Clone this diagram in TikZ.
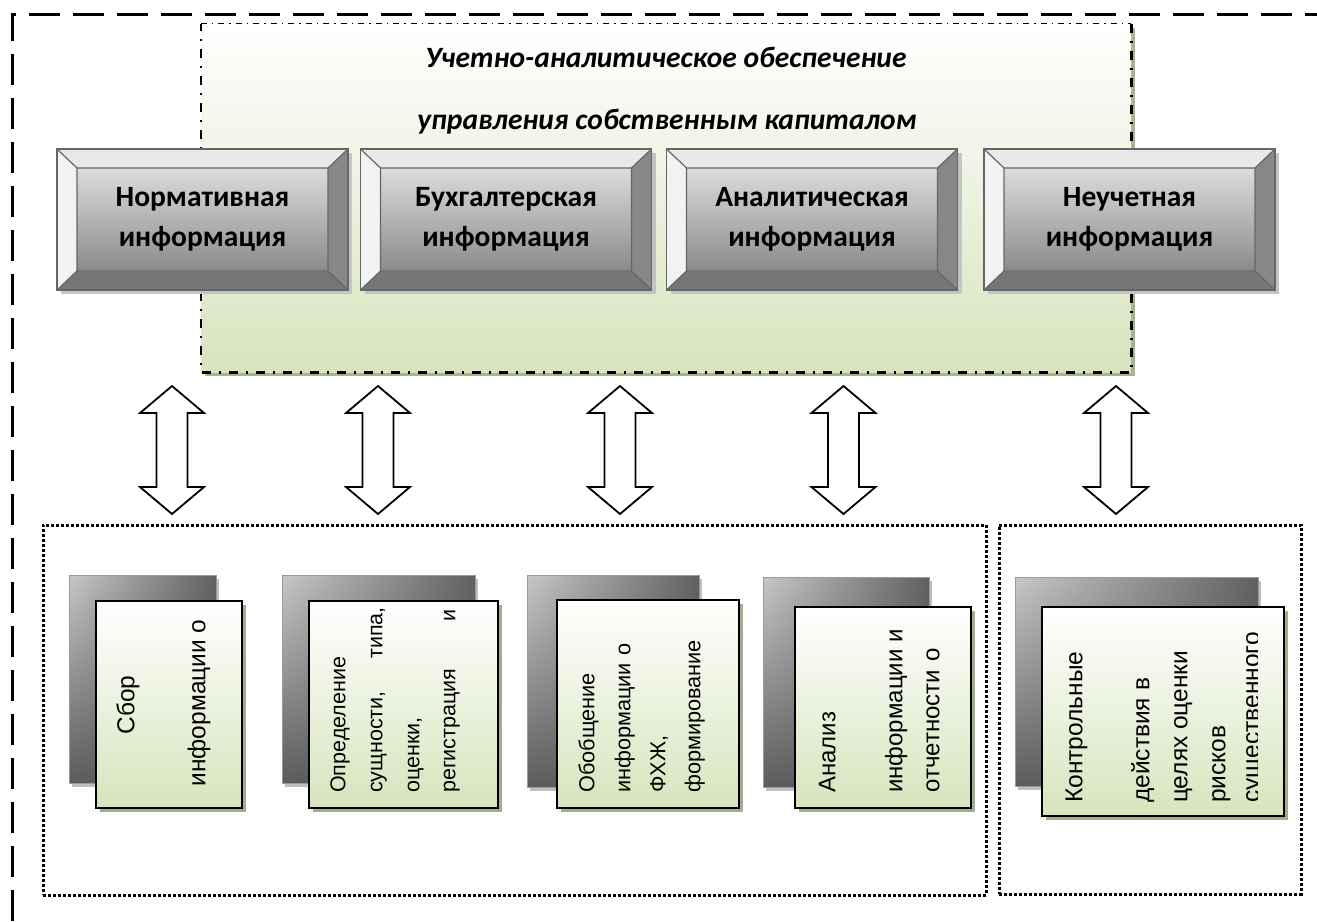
\documentclass[tikz,border=0pt]{standalone}
\usepackage{fontspec}
\setmainfont{Carlito}
\newfontfamily\cardfont{Liberation Sans}
\usetikzlibrary{calc,shadows,shadings}
\definecolor{cardgreen}{HTML}{D7E4BD}
\definecolor{greenshadow}{HTML}{A7B38D}
\definecolor{cardshadow}{HTML}{A3AC8C}
\definecolor{backshadow}{HTML}{BFBFBF}
\definecolor{bevborder}{HTML}{666666}
\definecolor{bevtopc}{HTML}{E9E9E9}
\definecolor{bevleftc}{HTML}{F2F2F2}
\definecolor{bevrightc}{HTML}{878787}
\definecolor{bevbotc}{HTML}{767676}
\definecolor{facetop}{HTML}{DCDCDC}
\definecolor{facemid}{HTML}{F3F3F3}
\definecolor{facebot}{HTML}{8A8A8A}
\definecolor{bevshadow}{HTML}{C4C4C4}
\newcommand\dblarrow[2]{%
  \draw[blockarrow] (#1) -- ($(#1)+(32,27)$) -- ($(#1)+(15.5,27)$) -- ($(#2)+(15.5,-27)$) -- ($(#2)+(32,-27)$) -- (#2) -- ($(#2)+(-32,-27)$) -- ($(#2)+(-15.5,-27)$) -- ($(#1)+(-15.5,27)$) -- ($(#1)+(-32,27)$) -- cycle;}
\begin{document}
\begin{tikzpicture}[x=1pt,y=-1pt,
  outerdash/.style={line width=3pt, dash pattern=on 31pt off 13pt},
  mainbox/.style={inner sep=0pt, top color=white, bottom color=cardgreen,
     drop shadow={shadow xshift=4pt, shadow yshift=-4pt, fill=greenshadow, opacity=1}},
  thindashdot/.style={line width=1.3pt, dash pattern=on 6pt off 5pt on 1.5pt off 5pt},
  thickdashdot/.style={line width=2.6pt, dash pattern=on 9pt off 8pt on 2pt off 8pt},
  titletext/.style={inner sep=0pt, font=\bfseries\itshape\fontsize{29.5}{34}\selectfont},
  bevelbox/.style={minimum width=291pt, minimum height=141pt, inner sep=0pt,
     draw=bevborder, line width=1.4pt, align=center,
     font=\bfseries\fontsize{29.5}{40}\selectfont,
     drop shadow={shadow xshift=4pt, shadow yshift=-4pt, fill=bevshadow, opacity=1},
     path picture={
       \coordinate (@a) at (path picture bounding box.north west);
       \coordinate (@b) at (path picture bounding box.north east);
       \coordinate (@c) at (path picture bounding box.south east);
       \coordinate (@d) at (path picture bounding box.south west);
       \coordinate (@A) at ($(@a)+(20,19)$);
       \coordinate (@B) at ($(@b)+(-20,19)$);
       \coordinate (@C) at ($(@c)+(-20,-19)$);
       \coordinate (@D) at ($(@d)+(20,-19)$);
       \fill[bevtopc] (@a)--(@b)--(@B)--(@A)--cycle;
       \fill[bevrightc] (@b)--(@c)--(@C)--(@B)--cycle;
       \fill[bevbotc] (@c)--(@d)--(@D)--(@C)--cycle;
       \fill[bevleftc] (@d)--(@a)--(@A)--(@D)--cycle;
       \shade[top color=facetop, middle color=facemid, bottom color=facebot] (@A) rectangle (@C);
       \draw[bevborder, line width=1.2pt] (@a)--(@A) (@b)--(@B) (@c)--(@C) (@d)--(@D) (@A) rectangle (@C);
     }},
  blockarrow/.style={draw=black, fill=white, line width=1.8pt, line join=miter},
  dotbox/.style={draw=black, line width=3pt, dash pattern=on 3pt off 2pt, inner sep=0pt},
  backcard/.style={inner sep=0pt, draw=gray!80, line width=0.6pt,
     upper left=black!22, upper right=black!62, lower left=black!64, lower right=black!66,
     drop shadow={shadow xshift=3pt, shadow yshift=-4pt, fill=backshadow, opacity=1}},
  frontcard/.style={inner sep=0pt, draw=black, line width=2pt, top color=white, bottom color=cardgreen,
     drop shadow={shadow xshift=4pt, shadow yshift=-4pt, fill=cardshadow, opacity=1}},
  vtext/.style={rotate=90, inner sep=0pt}
]
\useasboundingbox (0,0) rectangle (1317,921);
\fill[white] (0,0) rectangle (1317,921);

% outer dashed frame
\draw[outerdash] (12,921) -- (12,14) -- (1317,14);

% main green box
\node[mainbox, minimum width=930pt, minimum height=348pt] (main) at (666,198) {};
\draw[thindashdot] (main.north west) -- (main.north east);
\draw[thickdashdot] (main.north east) -- (main.south east) -- (main.south west) -- (main.north west);
\node[titletext] (t1) at (666,57) {Учетно-аналитическое обеспечение};
\node[titletext] (t2) at (667,122) {управления собственным капиталом};

% bevel boxes
\node[bevelbox] (n1) at (202.5,219.5) {Нормативная\\информация};
\node[bevelbox] (n2) at (506,219.5) {Бухгалтерская\\информация};
\node[bevelbox] (n3) at (812,219.5) {Аналитическая\\информация};
\node[bevelbox] (n4) at (1129.5,219.5) {Неучетная\\информация};

% dotted groups
\node[dotbox, minimum width=943pt, minimum height=370pt] (g1) at (514.5,710) {};
\node[dotbox, minimum width=302pt, minimum height=369pt] (g2) at (1150,709.5) {};

% arrows
\coordinate (a1t) at (172,386); \coordinate (a1b) at (172,514);
\coordinate (a2t) at (378,386); \coordinate (a2b) at (378,514);
\coordinate (a3t) at (620,386); \coordinate (a3b) at (620,514);
\coordinate (a4t) at (843.5,386); \coordinate (a4b) at (843.5,514);
\coordinate (a5t) at (1116,386); \coordinate (a5b) at (1116,514);
\dblarrow{a1t}{a1b}
\dblarrow{a2t}{a2b}
\dblarrow{a3t}{a3b}
\dblarrow{a4t}{a4b}
\dblarrow{a5t}{a5b}

% cards
\node[backcard, minimum width=147pt, minimum height=208pt] (b1) at (142.5,679) {};
\node[frontcard, minimum width=146pt, minimum height=207pt] (f1) at (169,704.5) {};
\node[backcard, minimum width=193pt, minimum height=208pt] (b2) at (378.5,679) {};
\node[frontcard, minimum width=189pt, minimum height=207pt] (f2) at (403.5,704.5) {};
\node[backcard, minimum width=172pt, minimum height=212pt] (b3) at (613,681) {};
\node[frontcard, minimum width=182pt, minimum height=208pt] (f3) at (648,704) {};
\node[backcard, minimum width=166pt, minimum height=210pt] (b4) at (846,682) {};
\node[frontcard, minimum width=176pt, minimum height=201pt] (f4) at (883,707.5) {};
\node[backcard, minimum width=243pt, minimum height=209pt] (b5) at (1136.5,681.5) {};
\node[frontcard, minimum width=242pt, minimum height=209pt] (f5) at (1163,711.5) {};

% card 1 text
\begin{scope}[every node/.style={vtext, font=\cardfont\fontsize{24.5}{28}\selectfont}]
\node[anchor=mid] (c1a) at (132,705) {Сбор};
\node[anchor=mid] (c1b) at (203,703) {информации о};
\end{scope}
% card 2 text
\begin{scope}[every node/.style={vtext, font=\cardfont\fontsize{21.5}{26}\selectfont}]
\node[anchor=mid west] (c2a) at (343,793) {Определение};
\node[anchor=mid west] (c2b) at (380,793) {сущности,};
\node[anchor=mid east] (c2c) at (380,607) {типа,};
\node[anchor=mid west] (c2d) at (417,793) {оценки,};
\node[anchor=mid west] (c2e) at (453,793) {регистрация};
\node[anchor=mid east] (c2f) at (453,609) {и};
\end{scope}
% card 3 text
\begin{scope}[every node/.style={vtext, font=\cardfont\fontsize{21.7}{26}\selectfont}]
\node[anchor=mid west] (c3a) at (592,793) {Обобщение};
\node[anchor=mid west] (c3b) at (628,793) {информации};
\node[anchor=mid east] (c3c) at (628,643) {о};
\node[anchor=mid west] (c3d) at (663,793) {ФХЖ,};
\node[anchor=mid west] (c3e) at (698,793) {формирование};
\end{scope}
% card 4 text
\begin{scope}[every node/.style={vtext, font=\cardfont\fontsize{24}{28}\selectfont}]
\node[anchor=mid west] (c4a) at (833,793) {Анализ};
\node[anchor=mid west] (c4b) at (900,793) {информации и};
\node[anchor=mid west] (c4c) at (937,793) {отчетности};
\node[anchor=mid east] (c4d) at (937,648) {о};
\end{scope}
% card 5 text
\begin{scope}[every node/.style={vtext, font=\cardfont\fontsize{24.5}{28}\selectfont}]
\clip (1040,600) rectangle (1257,820);
\node[anchor=mid west] (c5a) at (1080,803) {Контрольные};
\node[anchor=mid west] (c5b) at (1147,803) {действия в};
\node[anchor=mid west] (c5c) at (1185,803) {целях оценки};
\node[anchor=mid west] (c5d) at (1223,803) {рисков};
\node[anchor=mid west] (c5e) at (1257,803) {существенного};
\end{scope}
\end{tikzpicture}
\end{document}
